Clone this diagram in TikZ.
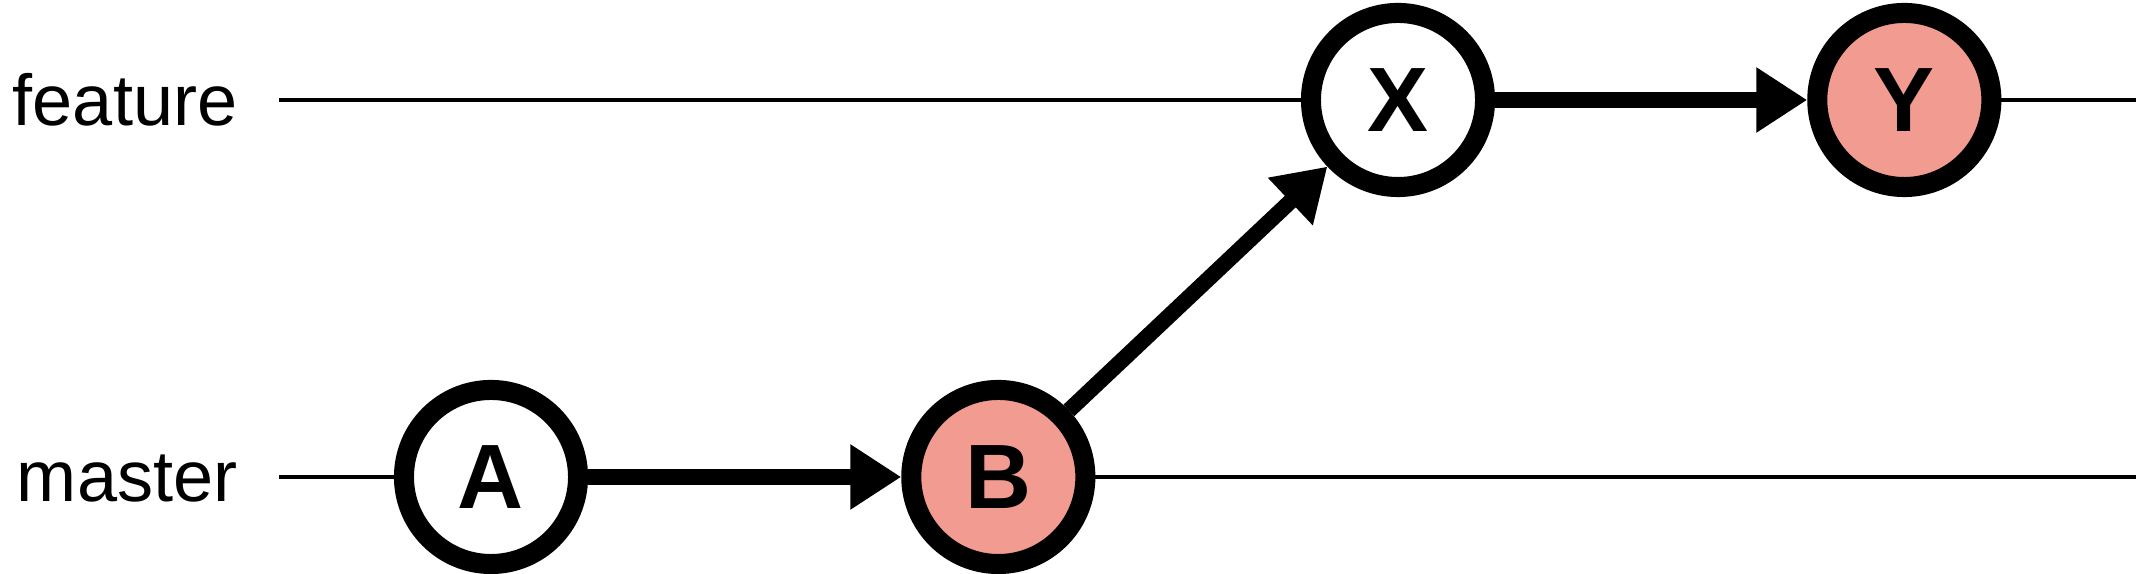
\documentclass[tikz,border=0pt]{standalone}
\usepackage{fontspec}
\setmainfont{Liberation Sans}
\usetikzlibrary{arrows.meta,positioning}
\definecolor{commitred}{HTML}{F29B91}
\tikzset{
  gitarr/.style={-{Triangle[length=14.5pt, width=17.6pt]}, line width=4.5pt},
  gitnode/.style={draw, circle, line width=5.7pt, minimum size=1.74cm, inner sep=0pt,
    font=\fontsize{26}{26}\selectfont\bfseries},
  gitline/.style={line width=1.1pt},
}

\begin{document}
\begin{tikzpicture}[
  x=0.01cm, y=-0.01cm,
  plaincommit/.style={gitnode, fill=white},
  hotcommit/.style={gitnode, fill=commitred},
  lbl/.style={font=\fontsize{20.5}{20.5}\selectfont, inner sep=0pt},
]
  \useasboundingbox (0,0) rectangle (2138,574);
  % commits
  \node[plaincommit] (a) at (491,477) {A};
  \node[hotcommit, right=3.13cm of a] (b) {B};
  \node[plaincommit] (x) at (1398,100) {X};
  \node[hotcommit, right=3.12cm of x] (y) {Y};
  % branch names
  \node[lbl, anchor=base east] (featlbl) at (238,126) {feature};
  \node[lbl, anchor=base east] (mastlbl) at (238,502) {master};
  \coordinate (fstart) at (279,100);
  \coordinate (fend) at (2136,100);
  \coordinate (mstart) at (279,477);
  \coordinate (mend) at (2136,477);
  \foreach \p/\q in {fstart/x,y/fend,mstart/a,b/mend}
    \draw[gitline] (\p) -- (\q);
  \foreach \p/\q in {a/b,b/x,x/y}
    \draw[gitarr] (\p) -- (\q);
\end{tikzpicture}
\end{document}
